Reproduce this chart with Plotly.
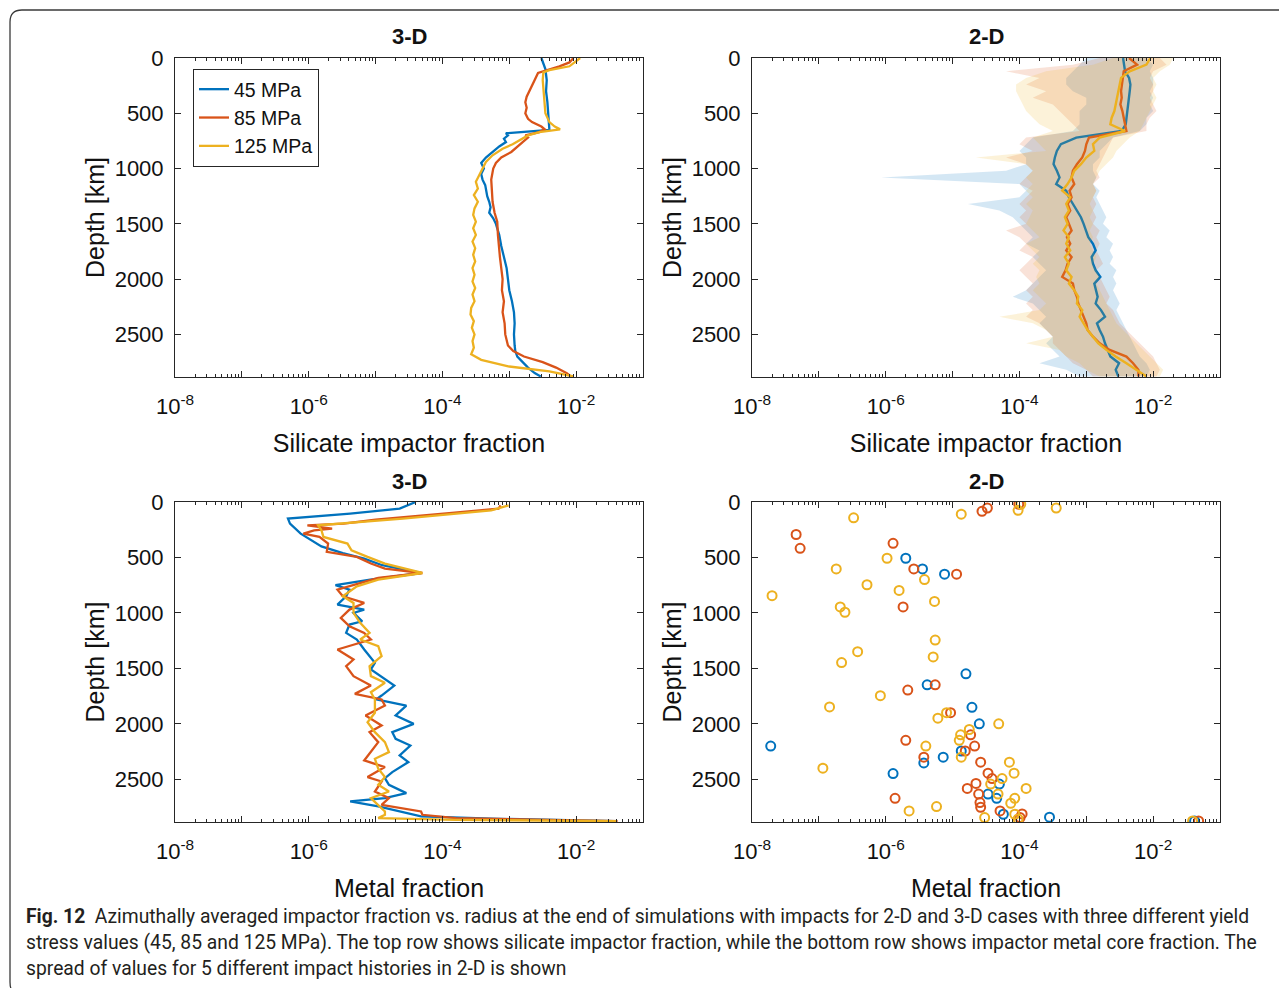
import numpy as np
import plotly.graph_objects as go

W, H = 1287, 988
OFF = 8  # default page margin of the browser body
C45, C85, C125 = "#0072BD", "#D95319", "#EDB120"
AX = "#262626"
FONT = "Liberation Sans, Arial, sans-serif"
CAPFONT = "Roboto, Open Sans, sans-serif"

series_names = ["45 MPa", "85 MPa", "125 MPa"]
panel_titles = ["3-D", "2-D", "3-D", "2-D"]
xlabels = ["Silicate impactor fraction", "Silicate impactor fraction", "Metal fraction", "Metal fraction"]
ylabel = "Depth [km]"
depth_ticks = [0, 500, 1000, 1500, 2000, 2500]
decades = [-8, -7, -6, -5, -4, -3, -2, -1]

# ---------------- 3-D silicate impactor fraction (log10 values) ----------------
sil3d_45_depth = [0, 40, 100, 200, 300, 400, 500, 600, 650, 680, 700, 730, 760, 800, 850, 900, 950, 980, 1000, 1050,
                  1100, 1150, 1200, 1250, 1300, 1350, 1400, 1450, 1500, 1600, 1700, 1800, 1900, 2000, 2100, 2200,
                  2300, 2400, 2500, 2600, 2650, 2700, 2750, 2800, 2850, 2880]
sil3d_45_log = [-2.52, -2.50, -2.46, -2.44, -2.45, -2.43, -2.42, -2.41, -2.40, -3.05, -3.02, -3.08, -3.05, -3.15,
                -3.25, -3.35, -3.42, -3.40, -3.38, -3.42, -3.40, -3.36, -3.35, -3.33, -3.30, -3.28, -3.30, -3.24,
                -3.20, -3.15, -3.12, -3.08, -3.04, -3.02, -3.00, -2.96, -2.93, -2.92, -2.93, -2.92, -2.91, -2.88,
                -2.80, -2.72, -2.62, -2.53]

sil3d_85_depth = [0, 40, 75, 110, 135, 200, 250, 300, 350, 400, 450, 500, 550, 580, 620, 645, 670, 700, 720, 760,
                  800, 850, 900, 950, 1000, 1050, 1100, 1200, 1300, 1400, 1480, 1600, 1700, 1800, 1900, 2000, 2100,
                  2200, 2300, 2400, 2500, 2600, 2650, 2700, 2750, 2800, 2850, 2880]
sil3d_85_log = [-2.04, -2.10, -2.25, -2.45, -2.57, -2.62, -2.66, -2.70, -2.74, -2.76, -2.74, -2.76, -2.72, -2.66,
                -2.52, -2.47, -2.55, -2.76, -2.72, -2.80, -2.88, -2.97, -3.12, -3.20, -3.24, -3.26, -3.27, -3.26,
                -3.25, -3.22, -3.18, -3.17, -3.16, -3.14, -3.12, -3.10, -3.11, -3.08, -3.10, -3.07, -3.06, -3.02,
                -2.94, -2.78, -2.50, -2.30, -2.14, -2.08]

sil3d_125_depth = [0, 40, 75, 110, 130, 200, 300, 400, 500, 580, 620, 645, 670, 700, 730, 780, 820, 880, 940, 1000,
                   1060, 1120, 1180, 1240, 1300, 1360, 1420, 1480, 1540, 1600, 1660, 1720, 1780, 1840, 1900, 1960,
                   2020, 2080, 2140, 2200, 2260, 2320, 2380, 2440, 2500, 2560, 2620, 2680, 2730, 2790, 2835, 2880]
sil3d_125_log = [-1.94, -2.02, -2.10, -2.40, -2.49, -2.50, -2.49, -2.48, -2.46, -2.40, -2.32, -2.24, -2.55, -2.72,
                 -2.80, -2.95, -3.10, -3.25, -3.35, -3.40, -3.45, -3.50, -3.47, -3.53, -3.47, -3.52, -3.54, -3.50,
                 -3.54, -3.50, -3.55, -3.51, -3.54, -3.51, -3.55, -3.52, -3.55, -3.51, -3.55, -3.52, -3.57, -3.58,
                 -3.53, -3.56, -3.52, -3.55, -3.53, -3.57, -3.42, -3.00, -2.40, -2.04]

# ---------------- 2-D silicate impactor fraction: mean and spread (log10) ----------------
sil2d_depth = [0, 60, 120, 180, 240, 300, 360, 420, 480, 540, 600, 660, 720, 780, 840, 900, 960, 1020, 1080, 1140,
               1200, 1260, 1320, 1380, 1440, 1500, 1560, 1620, 1680, 1740, 1800, 1860, 1920, 1980, 2040, 2100, 2160,
               2220, 2280, 2340, 2400, 2460, 2520, 2580, 2640, 2700, 2760, 2820, 2880]
sil2d_45_mean = [-2.45, -2.44, -2.42, -2.36, -2.34, -2.35, -2.36, -2.37, -2.38, -2.40, -2.41, -2.47, -3.15, -3.38,
                 -3.44, -3.47, -3.49, -3.44, -3.40, -3.45, -3.30, -3.26, -3.20, -3.15, -3.08, -3.04, -3.00, -2.97,
                 -2.90, -2.86, -2.92, -2.90, -2.86, -2.79, -2.88, -2.86, -2.83, -2.86, -2.78, -2.72, -2.84, -2.80,
                 -2.75, -2.72, -2.68, -2.64, -2.51, -2.56, -2.52]
sil2d_45_low = [-3.0, -3.1, -3.2, -3.3, -3.3, -3.2, -3.0, -3.0, -3.1, -3.1, -3.1, -3.2, -3.8, -3.9, -4.0, -3.9, -3.9,
                -4.2, -6.07, -4.0, -3.9, -4.0, -4.77, -4.3, -4.1, -4.0, -3.9, -3.8, -3.9, -3.7, -3.8, -3.7, -3.6,
                -3.7, -3.8, -3.9, -4.1, -3.8, -3.7, -3.6, -3.7, -3.6, -3.5, -3.6, -3.5, -3.4, -3.7, -3.3, -3.1]
sil2d_45_high = [-2.1, -2.0, -2.05, -2.0, -2.0, -2.05, -2.0, -2.05, -2.0, -2.1, -2.1, -2.2, -2.6, -2.7, -2.8, -2.8,
                 -2.9, -2.9, -2.85, -2.9, -2.8, -2.85, -2.8, -2.75, -2.7, -2.75, -2.65, -2.7, -2.6, -2.65, -2.6,
                 -2.65, -2.55, -2.6, -2.55, -2.6, -2.55, -2.5, -2.55, -2.5, -2.45, -2.4, -2.35, -2.3, -2.25, -2.2,
                 -2.1, -2.05, -2.1]

sil2d_85_mean = [-2.36, -2.24, -2.44, -2.45, -2.46, -2.48, -2.47, -2.49, -2.46, -2.44, -2.42, -2.40, -2.96, -3.00,
                 -3.02, -3.06, -3.14, -3.20, -3.22, -3.18, -3.25, -3.22, -3.28, -3.24, -3.30, -3.26, -3.22, -3.29,
                 -3.24, -3.30, -3.22, -3.28, -3.31, -3.36, -3.20, -3.18, -3.14, -3.12, -3.08, -3.05, -3.00, -2.98,
                 -2.90, -2.80, -2.65, -2.40, -2.30, -2.22, -2.22]
sil2d_85_low = [-2.8, -3.2, -4.2, -3.7, -3.9, -3.6, -3.8, -3.5, -3.4, -3.3, -3.2, -3.1, -3.9, -4.0, -3.8, -4.2, -3.9,
                -3.8, -3.9, -4.0, -3.8, -3.9, -4.0, -3.9, -4.0, -3.9, -4.2, -4.0, -3.9, -4.0, -3.8, -3.9, -4.0,
                -3.9, -3.8, -3.9, -3.8, -3.9, -3.8, -3.9, -3.7, -3.6, -3.5, -3.5, -3.4, -3.3, -3.2, -3.0, -2.9]
sil2d_85_high = [-1.9, -1.8, -2.0, -2.05, -2.0, -2.0, -2.05, -2.0, -1.95, -2.05, -2.1, -2.1, -2.6, -2.65, -2.7,
                 -2.75, -2.8, -2.85, -2.8, -2.9, -2.85, -2.9, -2.85, -2.9, -2.85, -2.9, -2.8, -2.85, -2.8, -2.85,
                 -2.8, -2.75, -2.85, -2.8, -2.75, -2.7, -2.65, -2.7, -2.6, -2.55, -2.5, -2.4, -2.3, -2.2, -2.1,
                 -2.0, -1.95, -1.9, -1.95]

sil2d_125_mean = [-2.04, -2.10, -2.35, -2.48, -2.50, -2.52, -2.55, -2.56, -2.58, -2.62, -2.64, -2.42, -2.80, -2.90,
                  -2.88, -3.00, -3.08, -3.18, -3.22, -3.28, -3.36, -3.24, -3.30, -3.26, -3.32, -3.28, -3.34, -3.26,
                  -3.30, -3.24, -3.32, -3.26, -3.30, -3.22, -3.26, -3.18, -3.12, -3.14, -3.06, -3.10, -3.04, -2.98,
                  -2.90, -2.82, -2.70, -2.56, -2.40, -2.24, -2.10]
sil2d_125_low = [-2.6, -2.9, -3.6, -3.9, -4.05, -4.05, -4.0, -3.95, -3.9, -3.8, -3.7, -3.5, -3.8, -3.7, -3.6, -4.65,
                 -3.9, -3.8, -3.9, -3.8, -3.9, -3.8, -3.9, -3.8, -3.85, -3.9, -3.8, -3.7, -3.9, -3.8, -3.7, -3.8,
                 -3.7, -3.75, -3.7, -3.8, -3.7, -3.6, -3.7, -4.3, -3.8, -3.6, -3.5, -3.9, -3.4, -3.3, -3.1, -3.0,
                 -2.8]
sil2d_125_high = [-1.7, -1.75, -1.9, -2.0, -1.95, -2.0, -1.95, -2.0, -2.05, -2.1, -2.15, -2.2, -2.35, -2.45, -2.55,
                  -2.6, -2.7, -2.8, -2.85, -2.9, -2.85, -2.9, -2.95, -2.9, -2.95, -2.9, -2.95, -2.9, -2.95, -2.9,
                  -2.85, -2.9, -2.85, -2.8, -2.85, -2.8, -2.75, -2.7, -2.65, -2.6, -2.55, -2.45, -2.35, -2.25,
                  -2.15, -2.05, -1.95, -1.85, -1.9]

# ---------------- 3-D metal fraction (log10) ----------------
met3d_45_depth = [0, 60, 105, 150, 195, 240, 285, 400, 460, 510, 570, 640, 700, 750, 790, 850, 925, 970, 1000, 1075,
                  1105, 1180, 1240, 1330, 1450, 1510, 1600, 1655, 1745, 1780, 1835, 1925, 2000, 2075, 2135, 2195,
                  2285, 2345, 2435, 2490, 2550, 2625, 2670, 2700, 2745, 2790, 2835, 2855, 2878]
met3d_45_log = [-4.40, -4.64, -5.38, -6.31, -6.28, -6.20, -6.12, -5.81, -5.49, -5.17, -4.90, -4.32, -5.08, -5.60,
                -5.39, -5.44, -5.57, -5.17, -5.33, -5.20, -5.39, -5.44, -5.28, -5.17, -5.01, -5.07, -4.86, -4.72,
                -4.91, -4.99, -4.54, -4.70, -4.43, -4.75, -4.70, -4.48, -4.64, -4.51, -4.75, -4.86, -4.80, -4.54,
                -4.86, -5.38, -4.96, -4.64, -4.32, -3.26, -1.40]

met3d_85_depth = [30, 60, 100, 160, 195, 210, 240, 255, 285, 315, 375, 450, 495, 555, 600, 640, 685, 760, 790, 850,
                  910, 970, 1045, 1120, 1180, 1240, 1330, 1420, 1480, 1570, 1655, 1730, 1780, 1835, 1925, 2015, 2075,
                  2165, 2255, 2330, 2390, 2480, 2520, 2610, 2670, 2730, 2790, 2820, 2850, 2878]
met3d_85_log = [-3.13, -3.16, -3.90, -5.00, -5.48, -6.02, -5.65, -5.92, -6.08, -5.84, -5.71, -5.73, -5.28, -5.07,
                -4.86, -4.30, -4.96, -5.39, -5.57, -5.49, -5.17, -5.39, -5.52, -5.39, -5.17, -5.07, -5.57, -5.33,
                -5.44, -5.33, -5.07, -5.31, -4.91, -4.86, -5.15, -4.91, -5.09, -4.96, -5.07, -5.17, -4.86, -5.12,
                -4.91, -5.01, -4.80, -4.91, -4.32, -4.30, -3.80, -1.38]

met3d_125_depth = [30, 75, 150, 210, 255, 315, 375, 435, 495, 555, 640, 700, 760, 850, 910, 1000, 1090, 1180, 1240,
                   1300, 1390, 1480, 1570, 1630, 1715, 1780, 1900, 1985, 2075, 2165, 2255, 2315, 2405, 2480, 2550,
                   2610, 2670, 2730, 2790, 2820, 2850, 2865, 2878]
met3d_125_log = [-3.01, -3.27, -4.59, -5.86, -5.81, -5.78, -5.42, -5.36, -5.12, -4.86, -4.30, -4.96, -5.28, -5.49,
                 -5.33, -5.33, -5.23, -5.09, -5.23, -4.96, -4.91, -5.09, -5.07, -4.86, -5.07, -5.01, -5.01, -5.12,
                 -5.01, -4.86, -4.80, -5.01, -4.96, -4.86, -4.96, -4.80, -5.07, -4.96, -4.86, -4.86, -4.96, -3.80,
                 -1.40]

# ---------------- 2-D metal fraction, individual samples (log10) ----------------
met2d_45_depth = [507, 603, 651, 1549, 1648, 1851, 2000, 2200, 2245, 2301, 2352, 2448, 2543, 2633, 2672, 2815, 2842,
                  2875]
met2d_45_log = [-5.70, -5.45, -5.12, -4.80, -5.38, -4.71, -4.60, -7.72, -4.87, -5.14, -5.43, -5.89, -4.30, -4.47,
                -4.34, -4.24, -3.55, -1.38]

met2d_85_depth = [21, 54, 84, 293, 373, 418, 603, 651, 946, 1648, 1696, 1899, 2099, 2149, 2200, 2245, 2301, 2346,
                  2445, 2493, 2537, 2582, 2633, 2672, 2710, 2752, 2785, 2812, 2845, 2875]
met2d_85_log = [-4.01, -4.48, -4.56, -7.34, -5.89, -7.28, -5.58, -4.94, -5.74, -5.26, -5.67, -5.03, -4.73, -5.70,
                -4.67, -4.81, -5.43, -4.58, -4.47, -4.41, -4.65, -4.78, -4.61, -5.86, -4.59, -4.58, -4.29, -3.96,
                -3.99, -1.32]

met2d_125_depth = [21, 54, 75, 110, 143, 507, 603, 699, 746, 797, 845, 896, 946, 994, 1245, 1349, 1397, 1448, 1746,
                   1848, 1899, 1949, 2000, 2051, 2099, 2149, 2200, 2301, 2346, 2400, 2445, 2493, 2543, 2582, 2633,
                   2672, 2716, 2746, 2785, 2815, 2845, 2857, 2875]
met2d_125_log = [-3.98, -3.45, -4.02, -4.87, -6.48, -5.98, -6.74, -5.42, -6.28, -5.80, -7.70, -5.27, -6.68, -6.61,
                 -5.26, -6.42, -5.29, -6.66, -6.08, -6.84, -5.09, -5.22, -4.31, -4.75, -4.88, -4.90, -5.40, -4.87,
                 -4.15, -6.94, -4.08, -4.26, -4.43, -3.90, -4.32, -4.07, -4.13, -5.24, -5.65, -4.07, -4.52, -4.02,
                 -1.41]

caption_lines = [
    "<b>Fig. 12</b>  Azimuthally averaged impactor fraction vs. radius at the end of simulations with impacts for 2-D and 3-D cases with three different yield",
    "stress values (45, 85 and 125 MPa). The top row shows silicate impactor fraction, while the bottom row shows impactor metal core fraction. The",
    "spread of values for 5 different impact histories in 2-D is shown",
]


def px_x(p):
    return (p - OFF) / W


def px_y(p):
    return 1 - (p - OFF) / H


def v(arr):
    return [10.0 ** a for a in arr]


def rgba(hexc, a):
    h = hexc.lstrip("#")
    r, g, b = int(h[0:2], 16), int(h[2:4], 16), int(h[4:6], 16)
    return f"rgba({r},{g},{b},{a})"


colors = [C45, C85, C125]
fig = go.Figure()

# Top-left: 3-D silicate
for name, c, d, x in zip(series_names, colors,
                         [sil3d_45_depth, sil3d_85_depth, sil3d_125_depth],
                         [sil3d_45_log, sil3d_85_log, sil3d_125_log]):
    fig.add_trace(go.Scatter(x=v(x), y=d, mode="lines", name=name, line=dict(color=c, width=2.3),
                             xaxis="x", yaxis="y", showlegend=True))

# Top-right: 2-D silicate spread (blue, red), mean lines, then the last spread on top
means = [sil2d_45_mean, sil2d_85_mean, sil2d_125_mean]
lows = [sil2d_45_low, sil2d_85_low, sil2d_125_low]
highs = [sil2d_45_high, sil2d_85_high, sil2d_125_high]


def band(k):
    return go.Scatter(x=v(highs[k]) + v(lows[k])[::-1], y=sil2d_depth + sil2d_depth[::-1], mode="lines",
                      fill="toself", fillcolor=rgba(colors[k], 0.17), line=dict(width=0),
                      xaxis="x2", yaxis="y2", showlegend=False, hoverinfo="skip", name=series_names[k])


fig.add_trace(band(0))
fig.add_trace(band(1))
for k in range(3):
    fig.add_trace(go.Scatter(x=v(means[k]), y=sil2d_depth, mode="lines", line=dict(color=colors[k], width=2.4),
                             xaxis="x2", yaxis="y2", showlegend=False, name=series_names[k]))
fig.add_trace(band(2))

# Bottom-left: 3-D metal
for name, c, d, x in zip(series_names, colors,
                         [met3d_45_depth, met3d_85_depth, met3d_125_depth],
                         [met3d_45_log, met3d_85_log, met3d_125_log]):
    fig.add_trace(go.Scatter(x=v(x), y=d, mode="lines", name=name, line=dict(color=c, width=2.3),
                             xaxis="x3", yaxis="y3", showlegend=False))

# Bottom-right: 2-D metal samples
for name, c, d, x in zip(series_names, colors,
                         [met2d_45_depth, met2d_85_depth, met2d_125_depth],
                         [met2d_45_log, met2d_85_log, met2d_125_log]):
    fig.add_trace(go.Scatter(x=v(x), y=d, mode="markers", name=name,
                             marker=dict(symbol="circle-open", size=9, color=c, line=dict(width=2, color=c)),
                             xaxis="x4", yaxis="y4", showlegend=False))

# panel geometry (pixels in the reference picture)
xdoms = [(175, 643), (752, 1220), (175, 643), (752, 1220)]
ydoms = [(58, 377), (58, 377), (502, 822), (502, 822)]

minor_vals = [m * 10.0 ** e for e in range(-8, -1) for m in range(2, 10)]
layout = dict(
    width=W, height=H, autosize=False, margin=dict(l=0, r=0, t=0, b=0, pad=0, autoexpand=False),
    paper_bgcolor="white", plot_bgcolor="white",
    font=dict(family=FONT, color=AX, size=22),
    showlegend=True,
    legend=dict(x=px_x(193), y=px_y(69), xanchor="left", yanchor="top", bordercolor=AX, borderwidth=1,
                bgcolor="white", font=dict(size=19.5, color="#111"), tracegroupgap=0, itemwidth=30),
)
for i in range(4):
    sfx = "" if i == 0 else str(i + 1)
    x0, x1 = xdoms[i]
    y0, y1 = ydoms[i]
    layout["xaxis" + sfx] = dict(
        type="log", range=[-8, -1], domain=[px_x(x0), px_x(x1)], anchor="y" + sfx, automargin=False,
        tickvals=[10.0 ** e for e in decades],
        ticktext=[f"10<sup>{e}</sup>" if e % 2 == 0 else "" for e in decades],
        ticks="inside", ticklen=6, tickwidth=1, tickcolor=AX, showline=True, linecolor=AX, linewidth=1,
        mirror="ticks", showgrid=False, zeroline=False, tickfont=dict(size=22, color="#111"),
        ticklabelstandoff=10,
        minor=dict(tickvals=minor_vals, ticks="inside", ticklen=3, tickcolor=AX, showgrid=False),
        title=dict(text=xlabels[i], font=dict(size=25, color="#111"), standoff=16),
    )
    layout["yaxis" + sfx] = dict(
        range=[2885, 0], domain=[px_y(y1), px_y(y0)], anchor="x" + sfx, automargin=False,
        tickvals=depth_ticks, ticks="inside", ticklen=6, tickcolor=AX, showline=True, linecolor=AX, linewidth=1,
        mirror="ticks", showgrid=False, zeroline=False, tickfont=dict(size=22, color="#111"),
        ticklabelstandoff=6,
        title=dict(text=ylabel, font=dict(size=25, color="#111"), standoff=2),
    )

annotations = []
for i in range(4):
    x0, x1 = xdoms[i]
    y0, _ = ydoms[i]
    annotations.append(dict(text=f"<b>{panel_titles[i]}</b>", x=px_x((x0 + x1) / 2), y=px_y(y0 - 21),
                            xref="paper", yref="paper", showarrow=False, xanchor="center", yanchor="middle",
                            font=dict(size=22, color="#111", family=FONT)))
for k, line in enumerate(caption_lines):
    annotations.append(dict(text=line, x=px_x(24), y=px_y(916 + 26 * k), xref="paper", yref="paper",
                            showarrow=False, xanchor="left", yanchor="middle",
                            font=dict(size=19.3, color="#231F20", family=CAPFONT)))
layout["annotations"] = annotations

frame = (f"M {px_x(1300)},{px_y(10)} L {px_x(22)},{px_y(10)} Q {px_x(10)},{px_y(10)} {px_x(10)},{px_y(22)} "
         f"L {px_x(10)},{px_y(982)} Q {px_x(10)},{px_y(990)} {px_x(14)},{px_y(994)}")
layout["shapes"] = [dict(type="path", path=frame, xref="paper", yref="paper",
                         line=dict(color="#3a3a3a", width=1.3))]

fig.update_layout(**layout)
fig.write_html("out.html", config={"displayModeBar": False})
